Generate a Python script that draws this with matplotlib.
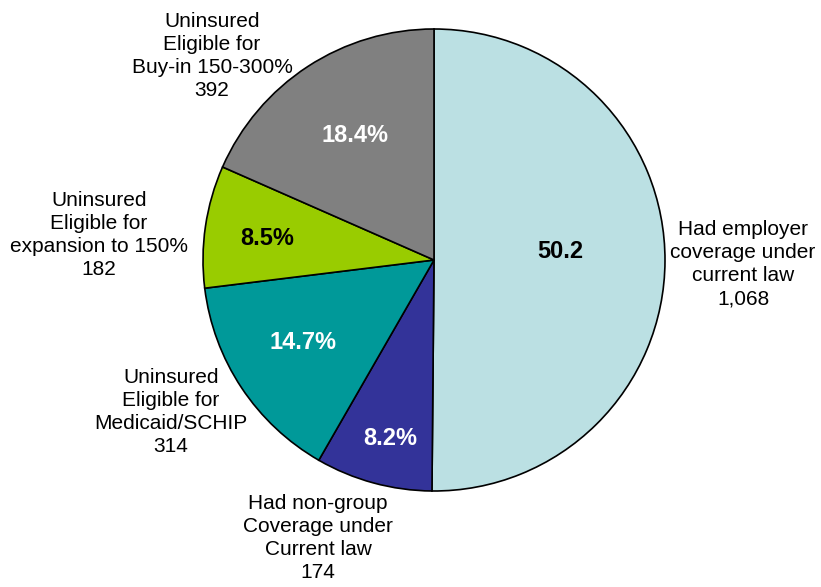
import matplotlib
matplotlib.use("Agg")
import matplotlib.pyplot as plt

categories = [
    "Had employer\ncoverage under\ncurrent law\n1,068",
    "Had non-group\nCoverage under\nCurrent law\n174",
    "Uninsured\nEligible for\nMedicaid/SCHIP\n314",
    "Uninsured\nEligible for\nexpansion to 150%\n182",
    "Uninsured\nEligible for\nBuy-in 150-300%\n392",
]
values = [1068, 174, 314, 182, 392]
pct_labels = ["50.2", "8.2%", "14.7%", "8.5%", "18.4%"]
colors = ["#BBE0E3", "#333399", "#009999", "#99CC00", "#808080"]
pct_colors = ["black", "white", "white", "black", "white"]

# layout positions (data coords, pie radius = 1)
label_pos = [(1.338, -0.017), (-0.502, -1.203), (-1.139, -0.658), (-1.450, 0.108), (-0.961, 0.883)]
pct_pos = [(0.545, 0.035), (-0.190, -0.771), (-0.567, -0.359), (-0.723, 0.095), (-0.342, 0.541)]

plt.rcParams['font.family'] = ['Liberation Sans', 'DejaVu Sans']
fig = plt.figure(figsize=(8.21, 5.87), dpi=100)
W, H = 821, 587
cx, cy, r = 434, 260, 231
ax = fig.add_axes([(cx - r) / W, (H - cy - r) / H, 2 * r / W, 2 * r / H])
ax.pie(values, colors=colors, startangle=90, counterclock=False, radius=1,
       wedgeprops=dict(edgecolor="black", linewidth=1.2))
ax.set_xlim(-1, 1)
ax.set_ylim(-1, 1)
ax.set_aspect("equal")
ax.axis("off")

for lab, (x, y) in zip(categories, label_pos):
    ax.text(x, y, lab, ha="center", va="center", fontsize=15, linespacing=1.28,
            clip_on=False)
for lab, (x, y), c in zip(pct_labels, pct_pos, pct_colors):
    ax.text(x, y, lab, ha="center", va="center", fontsize=17, fontweight="bold",
            color=c)

fig.savefig("out.png", dpi=100)
